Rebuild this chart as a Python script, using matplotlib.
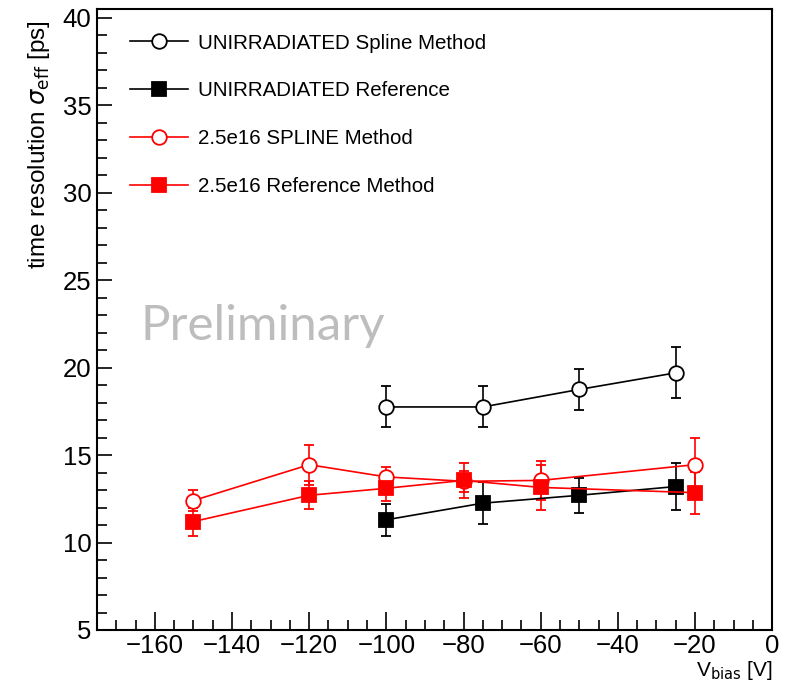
import matplotlib

matplotlib.use("Agg")
import matplotlib.pyplot as plt  # noqa: E402
from matplotlib.lines import Line2D  # noqa: E402
from matplotlib.ticker import MultipleLocator  # noqa: E402

plt.rcParams["font.family"] = ["Liberation Sans", "DejaVu Sans"]

# unirradiated sensor
unirr_v = [-100, -75, -50, -25]
unirr_spline = [17.75, 17.75, 18.75, 19.7]
unirr_spline_err = [1.17, 1.17, 1.17, 1.45]
unirr_ref = [11.3, 12.25, 12.7, 13.2]
unirr_ref_err = [0.9, 1.2, 1.0, 1.35]

# 2.5e16 irradiated sensor
irr_v = [-150, -120, -100, -80, -60, -20]
irr_spline = [12.4, 14.45, 13.75, 13.5, 13.55, 14.45]
irr_spline_err = [0.6, 1.15, 0.55, 0.6, 1.1, 1.5]
irr_ref = [11.2, 12.7, 13.1, 13.55, 13.15, 12.85]
irr_ref_err = [0.8, 0.8, 0.75, 1.0, 1.3, 1.2]

LABELS = [
    "UNIRRADIATED Spline Method",
    "UNIRRADIATED Reference",
    "2.5e16 SPLINE Method",
    "2.5e16 Reference Method",
]


def main() -> None:
    fig = plt.figure(figsize=(7.85, 6.85), dpi=100)
    ax = fig.add_axes([0.1236, 0.0803, 0.86, 0.9066])

    common = dict(lw=1.2, elinewidth=1.2, capsize=3.5, capthick=1.2, markersize=10.5)
    series = [
        (unirr_v, unirr_spline, unirr_spline_err, "black", "o", "white"),
        (unirr_v, unirr_ref, unirr_ref_err, "black", "s", "black"),
        (irr_v, irr_spline, irr_spline_err, "red", "o", "white"),
        (irr_v, irr_ref, irr_ref_err, "red", "s", "red"),
    ]
    handles = []
    for (x, y, e, col, mk, fc), lab in zip(series, LABELS):
        ax.errorbar(x, y, yerr=e, color=col, ecolor=col, marker=mk,
                    markerfacecolor=fc, markeredgecolor=col,
                    markeredgewidth=1.3, **common)
        handles.append(Line2D([], [], color=col, lw=1.2, marker=mk,
                              markerfacecolor=fc, markeredgecolor=col,
                              markeredgewidth=1.3, markersize=10.5, label=lab))

    ax.set_xlim(-175, 0)
    ax.set_ylim(5, 40.5)
    ax.xaxis.set_major_locator(MultipleLocator(20))
    ax.xaxis.set_minor_locator(MultipleLocator(5))
    ax.yaxis.set_major_locator(MultipleLocator(5))
    ax.yaxis.set_minor_locator(MultipleLocator(1))
    ax.tick_params(which="both", direction="in", top=False, right=False,
                   labelsize=18.5, width=1.2)
    ax.tick_params(axis="x", which="major", length=13, pad=3)
    ax.tick_params(axis="x", which="minor", length=7)
    ax.tick_params(axis="y", which="major", length=11, pad=4)
    ax.tick_params(axis="y", which="minor", length=7)
    for sp in ax.spines.values():
        sp.set_linewidth(1.5)

    ax.set_ylabel(r"time resolution $\sigma_{\rm eff}$ [ps]", fontsize=17.5,
                  loc="top")
    ax.yaxis.set_label_coords(-0.066, 0.982)
    ax.set_xlabel(r"V$_{\rm bias}$ [V]", fontsize=15, loc="right")
    ax.xaxis.set_label_coords(1.0, -0.046)

    ax.text(0.245, 0.49, "Preliminary", transform=ax.transAxes, fontsize=35.5,
            color="#bdbdbd", family="Lato", ha="center", va="center")

    ax.legend(handles=handles, loc="upper left", bbox_to_anchor=(0.022, 0.99),
              frameon=False, fontsize=14.8, handlelength=2.8, labelspacing=1.4,
              borderaxespad=0.5, handletextpad=0.5)

    plt.savefig("out.png", dpi=100)
    plt.close()


if __name__ == "__main__":
    main()
